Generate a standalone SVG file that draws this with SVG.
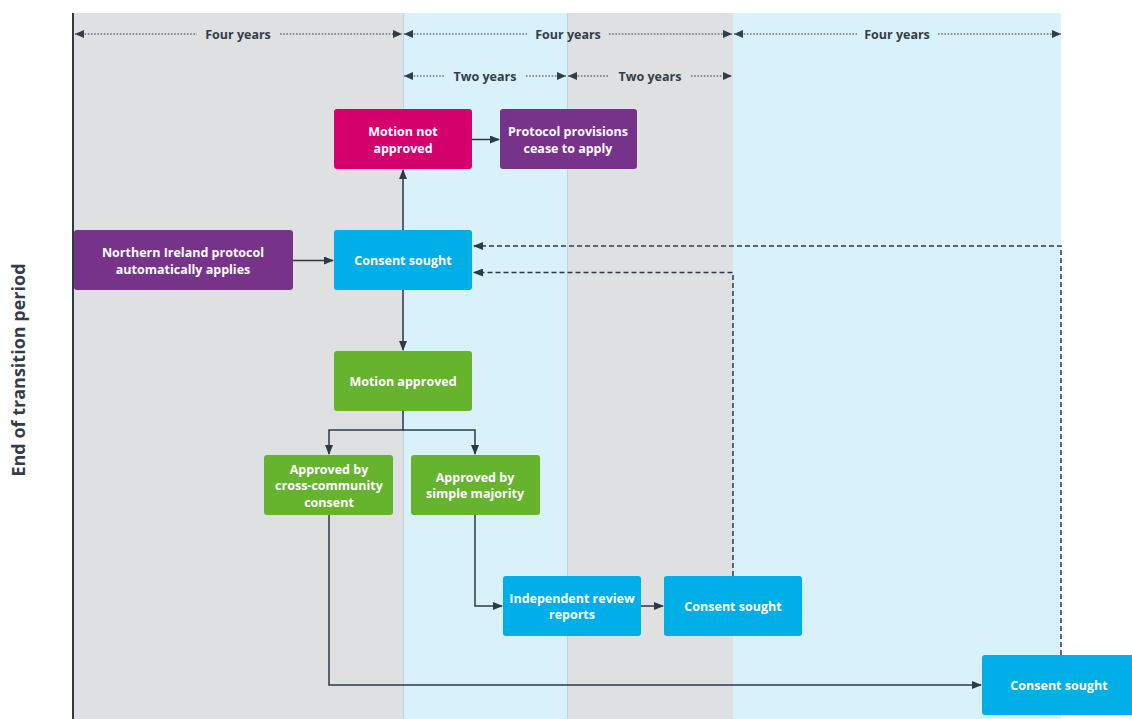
<svg xmlns="http://www.w3.org/2000/svg" width="1132" height="719" viewBox="0 0 1132 719">
<defs>
<style>
.band-g{fill:#dfe0e2}
.band-b{fill:#d9f1fb}
.sep{stroke:#c3d2db;stroke-width:1}
.hdr{font-family:"Open Sans","Liberation Sans",sans-serif;font-weight:700;font-size:12.5px;fill:#333d47;text-anchor:middle}
.dot{stroke:#333d47;stroke-width:1.2;stroke-dasharray:1.6 1.6;fill:none}
.nt{font-family:"Open Sans","Liberation Sans",sans-serif;font-weight:700;font-size:12.5px;fill:#ffffff;text-anchor:middle}
.conn{stroke:#2c3a48;stroke-width:1.5;fill:none}
.dash{stroke:#2c3a48;stroke-width:1.5;fill:none;stroke-dasharray:5 3}
.blue{fill:#00aee8}.purple{fill:#77338a}.red{fill:#d4006b}.green{fill:#66b32e}
</style>
<marker id="ah" markerWidth="10" markerHeight="8" refX="9" refY="4" orient="auto" markerUnits="userSpaceOnUse"><path d="M0,0 L10,4 L0,8 Z" fill="#2c3a48"/></marker>
<marker id="hd" markerWidth="9" markerHeight="8" refX="9" refY="4" orient="auto-start-reverse" markerUnits="userSpaceOnUse"><path d="M0,0 L9,4 L0,8 Z" fill="#333d47"/></marker>
</defs>
<g id="background">
<rect class="band-g" x="74" y="13" width="329" height="706"/>
<rect class="band-b" x="403" y="13" width="164" height="706"/>
<rect class="band-g" x="567" y="13" width="166" height="706"/>
<rect class="band-b" x="733" y="13" width="328" height="706"/>
<line class="sep" x1="403.5" y1="13" x2="403.5" y2="719"/>
<line class="sep" x1="567.5" y1="13" x2="567.5" y2="719"/>
<line x1="73" y1="13" x2="73" y2="719" stroke="#2c3a48" stroke-width="2"/>
<text x="20" y="370" transform="rotate(-90 20 370)" font-family="'Open Sans','Liberation Sans',sans-serif" font-weight="700" font-size="18" fill="#333d47" text-anchor="middle" dominant-baseline="middle">End of transition period</text>
</g>
<g id="timeline">
<line class="dot" x1="75" y1="34" x2="197" y2="34" marker-start="url(#hd)"/>
<line class="dot" x1="280" y1="34" x2="402" y2="34" marker-end="url(#hd)"/>
<text class="hdr" x="238" y="38.5">Four years</text>
<line class="dot" x1="404" y1="34" x2="527" y2="34" marker-start="url(#hd)"/>
<line class="dot" x1="609" y1="34" x2="732" y2="34" marker-end="url(#hd)"/>
<text class="hdr" x="568" y="38.5">Four years</text>
<line class="dot" x1="734" y1="34" x2="857" y2="34" marker-start="url(#hd)"/>
<line class="dot" x1="938" y1="34" x2="1061" y2="34" marker-end="url(#hd)"/>
<text class="hdr" x="897" y="38.5">Four years</text>
<line class="dot" x1="404" y1="76" x2="445" y2="76" marker-start="url(#hd)"/>
<line class="dot" x1="526" y1="76" x2="566" y2="76" marker-end="url(#hd)"/>
<text class="hdr" x="485" y="80.5">Two years</text>
<line class="dot" x1="568" y1="76" x2="609" y2="76" marker-start="url(#hd)"/>
<line class="dot" x1="691" y1="76" x2="732" y2="76" marker-end="url(#hd)"/>
<text class="hdr" x="650" y="80.5">Two years</text>
</g>
<g id="connectors">
<line class="conn" x1="293" y1="260.5" x2="333" y2="260.5" marker-end="url(#ah)"/>
<line class="conn" x1="403" y1="230" x2="403" y2="170" marker-end="url(#ah)"/>
<line class="conn" x1="472" y1="139.5" x2="499" y2="139.5" marker-end="url(#ah)"/>
<line class="conn" x1="403" y1="290" x2="403" y2="350" marker-end="url(#ah)"/>
<path class="conn" d="M403,411 V430 H329 V454" marker-end="url(#ah)"/>
<path class="conn" d="M403,430 H475 V454" marker-end="url(#ah)"/>
<path class="conn" d="M475,515 V606 H502" marker-end="url(#ah)"/>
<line class="conn" x1="641" y1="606" x2="663" y2="606" marker-end="url(#ah)"/>
<path class="conn" d="M329,515 V685 H981" marker-end="url(#ah)"/>
<path class="dash" d="M733,576 V272.5 H474" marker-end="url(#ah)"/>
<path class="dash" d="M1061,655 V246 H474" marker-end="url(#ah)"/>
</g>
<g id="motion-not-approved">
<rect class="red" x="334" y="109" width="138" height="60" rx="3"/>
<text class="nt" x="403" y="136">Motion not</text>
<text class="nt" x="403" y="153">approved</text>
</g>
<g id="protocol-cease">
<rect class="purple" x="500" y="109" width="137" height="60" rx="3"/>
<text class="nt" x="568" y="136">Protocol provisions</text>
<text class="nt" x="568" y="153">cease to apply</text>
</g>
<g id="ni-protocol">
<rect class="purple" x="74" y="230" width="219" height="60" rx="3"/>
<text class="nt" x="183" y="257">Northern Ireland protocol</text>
<text class="nt" x="183" y="274">automatically applies</text>
</g>
<g id="consent-sought-1">
<rect class="blue" x="334" y="230" width="138" height="60" rx="3"/>
<text class="nt" x="403" y="265">Consent sought</text>
</g>
<g id="motion-approved">
<rect class="green" x="334" y="351" width="138" height="60" rx="3"/>
<text class="nt" x="403" y="386">Motion approved</text>
</g>
<g id="cross-community">
<rect class="green" x="264" y="455" width="129" height="60" rx="3"/>
<text class="nt" x="329" y="474">Approved by</text>
<text class="nt" x="329" y="490">cross-community</text>
<text class="nt" x="329" y="507">consent</text>
</g>
<g id="simple-majority">
<rect class="green" x="411" y="455" width="129" height="60" rx="3"/>
<text class="nt" x="475" y="482">Approved by</text>
<text class="nt" x="475" y="498">simple majority</text>
</g>
<g id="independent-review">
<rect class="blue" x="503" y="576" width="138" height="60" rx="3"/>
<text class="nt" x="572" y="603">Independent review</text>
<text class="nt" x="572" y="619">reports</text>
</g>
<g id="consent-sought-2">
<rect class="blue" x="664" y="576" width="138" height="60" rx="3"/>
<text class="nt" x="733" y="611">Consent sought</text>
</g>
<g id="consent-sought-3">
<rect class="blue" x="982" y="655" width="152" height="60" rx="3"/>
<text class="nt" x="1059" y="690">Consent sought</text>
</g>
</svg>
